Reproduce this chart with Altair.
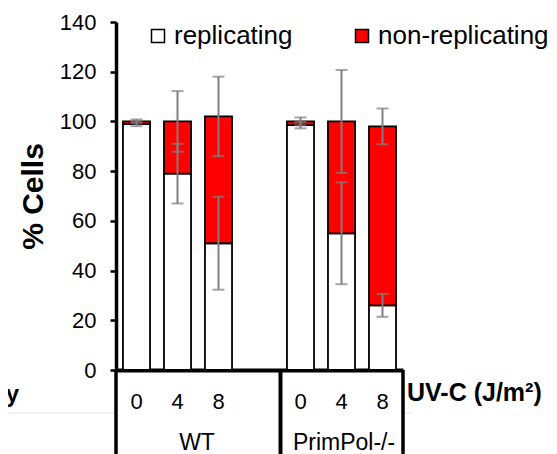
import altair as alt
import pandas as pd

# ---- data ----
groups = ["WT", "WT", "WT", "PrimPol-/-", "PrimPol-/-", "PrimPol-/-"]
doses = ["0", "4", "8", "0", "4", "8"]
replicating = [99.0, 79.0, 51.0, 98.5, 55.0, 26.0]
replicating_err = [0.9, 12.0, 18.7, 1.3, 20.5, 4.6]
non_replicating = [1.0, 21.0, 51.0, 1.5, 45.0, 72.0]
non_replicating_err = [0.8, 12.2, 16.0, 1.6, 20.7, 7.2]
series = ["replicating", "non-replicating"]
series_colors = ["#FFFFFF", "#FF0000"]
y_ticks = [0, 20, 40, 60, 80, 100, 120, 140]
x_title = "UV-C (J/m²)"
y_title = "% Cells"
group_names = ["WT", "PrimPol-/-"]
left_cut_label = "Recovery"

FONT = "Liberation Sans"
ERR = "#7F7F7F"

# ---- tables built from the arrays ----
cats = [f"{g}|{d}" for g, d in zip(groups, doses)]
x_domain = cats[:3] + ["gap"] + cats[3:]

bar_rows = []
for i, c in enumerate(cats):
    bar_rows.append({"cat": c, "series": series[0], "value": replicating[i], "ord": 0})
    bar_rows.append({"cat": c, "series": series[1], "value": non_replicating[i], "ord": 1})
bars_df = pd.DataFrame(bar_rows)

err_rows = []
for i, c in enumerate(cats):
    r = replicating[i]
    t = replicating[i] + non_replicating[i]
    err_rows.append({"cat": c, "lo": r - replicating_err[i], "hi": r + replicating_err[i]})
    err_rows.append({"cat": c, "lo": t - non_replicating_err[i], "hi": t + non_replicating_err[i]})
err_df = pd.DataFrame(err_rows)
cap_df = pd.concat([
    err_df[["cat", "lo"]].rename(columns={"lo": "v"}),
    err_df[["cat", "hi"]].rename(columns={"hi": "v"}),
])

W, H = 287, 348

x_scale = alt.Scale(domain=x_domain, paddingInner=0.34, paddingOuter=0.17)
y_scale = alt.Scale(domain=[0, 140], nice=False)

x_axis = alt.Axis(
    title=None, ticks=False, domainColor="black", domainWidth=4,
    labelFont=FONT, labelFontSize=22, labelColor="black", labelAngle=0,
    labelBaseline="alphabetic", labelPadding=38,
    labelExpr="datum.value == 'gap' ? '' : split(datum.value, '|')[1]",
)
y_axis = alt.Axis(
    title=y_title, values=y_ticks, grid=False,
    domainColor="black", domainWidth=3.5, tickColor="black", tickWidth=2.5, tickSize=6,
    labelFont=FONT, labelFontSize=22, labelColor="black", labelPadding=14,
    titleFont=FONT, titleFontSize=30, titleFontWeight="bold", titleColor="black",
    titlePadding=11,
)
legend = alt.Legend(
    orient="none", legendX=29, legendY=1, direction="horizontal", title=None,
    symbolType="square", symbolSize=169, symbolStrokeColor="black", symbolStrokeWidth=1.5,
    symbolOpacity=1, labelFont=FONT, labelFontSize=26, labelColor="black",
    labelOffset=3, columnPadding=56, labelLimit=400,
)

bars = alt.Chart(bars_df).mark_bar(stroke="black", strokeWidth=1.8).encode(
    x=alt.X("cat:N", scale=x_scale, axis=x_axis, sort=None),
    y=alt.Y("value:Q", stack="zero", scale=y_scale, axis=y_axis),
    color=alt.Color("series:N", scale=alt.Scale(domain=series, range=series_colors), legend=legend),
    order=alt.Order("ord:Q"),
)

err_rules = alt.Chart(err_df).mark_rule(color=ERR, strokeWidth=2).encode(
    x=alt.X("cat:N", scale=x_scale, sort=None),
    y=alt.Y("lo:Q", scale=y_scale),
    y2="hi:Q",
)
caps = alt.Chart(cap_df).mark_tick(color=ERR, thickness=2, size=12).encode(
    x=alt.X("cat:N", scale=x_scale, sort=None),
    y=alt.Y("v:Q", scale=y_scale),
)

one = pd.DataFrame({"k": [0]})


def vrule(xpx, width=4):
    return alt.Chart(one).mark_rule(color="black", strokeWidth=width).encode(
        x=alt.value(xpx), y=alt.value(H), y2=alt.value(H + 100)
    )


def hrule(x1, x2, ypx, color, width):
    return alt.Chart(one).mark_rule(color=color, strokeWidth=width).encode(
        x=alt.value(x1), x2=alt.value(x2), y=alt.value(ypx)
    )


def label(txt, xpx, ypx, size, align="center", weight="normal"):
    return alt.Chart(one).mark_text(
        font=FONT, fontSize=size, fontWeight=weight, color="black",
        align=align, baseline="alphabetic",
    ).encode(x=alt.value(xpx), y=alt.value(ypx), text=alt.value(txt))


decor = [
    hrule(-110, 0, 391, "#E6E6E6", 1),
    hrule(W, W + 8, 391, "#E6E6E6", 1),
    vrule(0, 3.5),
    vrule(164.5, 4),
    vrule(W, 3.5),
    label(group_names[0], 81, 428, 23),
    label(group_names[1], 228, 428, 23),
    label(x_title, 291, 379, 25, align="left", weight="bold"),
    label(left_cut_label, -97, 380, 24, align="right", weight="bold"),
]

chart = alt.layer(bars, err_rules, caps, *decor).properties(
    width=W, height=H,
    padding={"left": 108, "top": 14, "right": 146, "bottom": 84},
    autosize=alt.AutoSizeParams(type="none"),
).configure_view(strokeWidth=0)

chart.save("out.html", embed_options={"renderer": "svg", "actions": False})
